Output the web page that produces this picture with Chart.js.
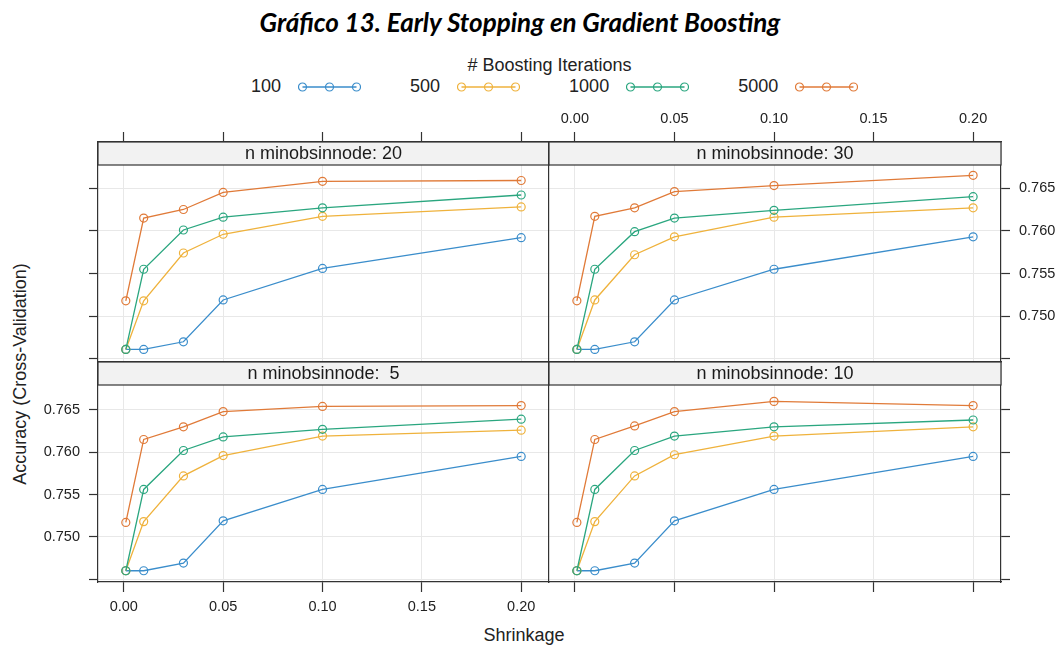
<!DOCTYPE html>
<html>
<head>
<meta charset="utf-8">
<script src="https://cdn.jsdelivr.net/npm/chart.js@4.4.1/dist/chart.umd.min.js"></script>
<style>
  body { margin: 0; background: #fff; width: 1061px; height: 648px; position: relative; overflow: hidden;
         font-family: "Liberation Sans", Arial, sans-serif; color: #222; }
  canvas { position: absolute; left: 0; top: 0; }
  #title { position: absolute; left: 0; width: 1040px; top: 6px; text-align: center;
           font: italic 700 26px Lato, "Open Sans", sans-serif; color: #000; }
  #keyTitle { position: absolute; left: 0; width: 1099px; top: 55px; text-align: center; font-size: 18px; }
  #key { position: absolute; left: 251px; top: 76px; display: flex; align-items: center; font-size: 18px; }
  #key .item { display: flex; align-items: center; margin-right: 49px; }
  #key svg { margin-left: 17px; }
  #xlab { position: absolute; left: 0; width: 1048px; top: 625px; text-align: center; font-size: 18px; }
  #ylab { position: absolute; left: 20px; top: 374px; font-size: 18px; white-space: nowrap;
          transform: translate(-50%, -50%) rotate(-90deg); }
</style>
</head>
<body>
<div id="title">Gráfico 13. Early Stopping en Gradient Boosting</div>
<div id="keyTitle"># Boosting Iterations</div>
<div id="key"></div>
<div id="xlab">Shrinkage</div>
<div id="ylab">Accuracy (Cross-Validation)</div>

<script>
// valores
const shrinkage = [0.001, 0.01, 0.03, 0.05, 0.1, 0.2];
const iterations = ['100', '500', '1000', '5000'];
const colors = ['#3a8dcb', '#efb23c', '#2aa67f', '#e07a38'];

const xTicks = [0, 0.05, 0.1, 0.15, 0.2];
const xTickLabels = ['0.00', '0.05', '0.10', '0.15', '0.20'];
const yTicks = [0.745, 0.75, 0.755, 0.76, 0.765];
const yTickLabels = ['', '0.750', '0.755', '0.760', '0.765'];

// n.minobsinnode = 20
const n20_it100  = [0.7461, 0.7461, 0.7470, 0.7519, 0.7556, 0.7592];
const n20_it500  = [0.7461, 0.7518, 0.7574, 0.7596, 0.7617, 0.7628];
const n20_it1000 = [0.7461, 0.7555, 0.7601, 0.7616, 0.7627, 0.7642];
const n20_it5000 = [0.7518, 0.7615, 0.7625, 0.7645, 0.7658, 0.7659];

// n.minobsinnode = 30
const n30_it100  = [0.7461, 0.7461, 0.7470, 0.7519, 0.7555, 0.7593];
const n30_it500  = [0.7461, 0.7519, 0.7572, 0.7593, 0.7616, 0.7627];
const n30_it1000 = [0.7461, 0.7555, 0.7599, 0.7615, 0.7624, 0.7640];
const n30_it5000 = [0.7518, 0.7617, 0.7627, 0.7646, 0.7653, 0.7665];

// n.minobsinnode = 5
const n5_it100  = [0.7460, 0.7460, 0.7469, 0.7519, 0.7556, 0.7595];
const n5_it500  = [0.7460, 0.7518, 0.7572, 0.7596, 0.7619, 0.7626];
const n5_it1000 = [0.7460, 0.7556, 0.7602, 0.7618, 0.7627, 0.7639];
const n5_it5000 = [0.7517, 0.7615, 0.7630, 0.7648, 0.7654, 0.7655];

// n.minobsinnode = 10
const n10_it100  = [0.7460, 0.7460, 0.7469, 0.7519, 0.7556, 0.7595];
const n10_it500  = [0.7460, 0.7518, 0.7572, 0.7597, 0.7619, 0.7630];
const n10_it1000 = [0.7460, 0.7556, 0.7602, 0.7619, 0.7630, 0.7638];
const n10_it5000 = [0.7517, 0.7615, 0.7631, 0.7648, 0.7660, 0.7655];

Chart.defaults.font.family = '"Liberation Sans", Arial, sans-serif';
Chart.defaults.color = '#222';

const W = 1061, H = 648;
const FRAME = '#333';
const GRID = '#e8e8e8';
const AXW = 60, AXH = 40;   // tamaño fijo de cada eje

// leyenda: texto + línea con tres círculos
const key = document.getElementById('key');
iterations.forEach((it, i) => {
  const c = colors[i];
  key.insertAdjacentHTML('beforeend',
    `<div class="item"><span>${it}</span>` +
    `<svg width="63" height="12"><line x1="4.5" y1="6" x2="58.5" y2="6" stroke="${c}" stroke-width="1.3"/>` +
    [4.5, 31.5, 58.5].map(cx => `<circle cx="${cx}" cy="6" r="4" fill="none" stroke="${c}" stroke-width="1.2"/>`).join('') +
    `</svg></div>`);
});

// cabecera del panel (strip de lattice)
const stripPlugin = {
  id: 'strip',
  beforeDatasetsDraw(chart, args, o) {
    const { ctx, chartArea: a } = chart;
    ctx.save();
    ctx.fillStyle = '#f2f2f2';
    ctx.fillRect(a.left, a.top, a.right - a.left, o.height);
    ctx.strokeStyle = FRAME;
    ctx.lineWidth = 1.2;
    ctx.strokeRect(a.left, a.top, a.right - a.left, o.height);
    ctx.fillStyle = '#1a1a1a';
    ctx.font = '18px "Liberation Sans", Arial, sans-serif';
    ctx.textAlign = 'center';
    ctx.textBaseline = 'middle';
    ctx.fillText(o.text, (a.left + a.right) / 2, a.top + o.height / 2 + 1);
    ctx.restore();
  }
};

function fixedSize(s) {
  if (s.isHorizontal()) s.height = AXH; else s.width = AXW;
  s.paddingLeft = s.paddingRight = s.paddingTop = s.paddingBottom = 0;
}

function xAxis(pos, ticks, labels, onArea) {
  return {
    type: 'linear', position: pos, min: -0.013, max: 0.214, bounds: 'data',
    afterBuildTicks: s => { s.ticks = xTicks.map(v => ({ value: v })); },
    afterFit: fixedSize,
    ticks: { display: labels, autoSkip: false, maxRotation: 0, padding: pos === 'top' ? 4 : 6,
             font: { size: 14.5 }, color: '#222', callback: (v, i) => xTickLabels[i] },
    grid: { display: true, drawOnChartArea: onArea, drawTicks: ticks, tickLength: 10,
            tickWidth: 1.2, tickColor: FRAME, color: GRID, lineWidth: 1 },
    border: { display: true, color: FRAME, width: 1.2 }
  };
}

function yAxis(pos, range, ticks, labels, onArea) {
  return {
    type: 'linear', position: pos, min: range[0], max: range[1], bounds: 'data',
    afterBuildTicks: s => { s.ticks = yTicks.map(v => ({ value: v })); },
    afterFit: fixedSize,
    ticks: { display: labels, autoSkip: false, padding: 9,
             font: { size: 14.5 }, color: '#222', callback: (v, i) => yTickLabels[i] },
    grid: { display: true, drawOnChartArea: onArea, drawTicks: ticks, tickLength: 9,
            tickWidth: 1.2, tickColor: FRAME, color: GRID, lineWidth: 1 },
    border: { display: true, color: FRAME, width: 1.2 }
  };
}

function panel(label, series, rect, scales) {
  const cv = document.createElement('canvas');
  cv.width = W; cv.height = H;
  document.body.appendChild(cv);
  const used = Object.values(scales).map(s => s.position);
  const has = p => used.includes(p);
  new Chart(cv, {
    type: 'line',
    data: {
      datasets: series.map((vals, i) => ({
        label: iterations[i],
        data: shrinkage.map((x, j) => ({ x: x, y: vals[j] })),
        borderColor: colors[i],
        backgroundColor: colors[i],
        borderWidth: 1.3,
        pointRadius: 4,
        pointBorderWidth: 1.2,
        pointBorderColor: colors[i],
        pointBackgroundColor: 'rgba(0,0,0,0)',
        order: series.length - i
      }))
    },
    options: {
      responsive: false,
      animation: false,
      layout: { padding: {
        left: rect[0] - (has('left') ? AXW : 0),
        top: rect[1] - (has('top') ? AXH : 0),
        right: W - rect[2] - (has('right') ? AXW : 0),
        bottom: H - rect[3] - (has('bottom') ? AXH : 0)
      } },
      plugins: {
        legend: { display: false },
        tooltip: { enabled: false },
        strip: { text: label, height: 23 }
      },
      scales: scales
    },
    plugins: [stripPlugin]
  });
}

const topRange = [0.74463, 0.77041];
const botRange = [0.74467, 0.77065];

// fila superior: 20 | 30
panel('n minobsinnode: 20', [n20_it100, n20_it500, n20_it1000, n20_it5000], [98, 142, 549, 362], {
  x: xAxis('bottom', false, false, true),
  xt: xAxis('top', true, false, false),
  y: yAxis('left', topRange, true, false, true)
});
panel('n minobsinnode: 30', [n30_it100, n30_it500, n30_it1000, n30_it5000], [549, 142, 1001, 362], {
  x: xAxis('bottom', false, false, true),
  xt: xAxis('top', true, true, false),
  y: yAxis('left', topRange, false, false, true),
  yr: yAxis('right', topRange, true, true, false)
});
// fila inferior: 5 | 10
panel('n minobsinnode:  5', [n5_it100, n5_it500, n5_it1000, n5_it5000], [98, 362, 549, 582], {
  x: xAxis('bottom', true, true, true),
  y: yAxis('left', botRange, true, true, true)
});
panel('n minobsinnode: 10', [n10_it100, n10_it500, n10_it1000, n10_it5000], [549, 362, 1001, 582], {
  x: xAxis('bottom', true, false, true),
  y: yAxis('left', botRange, false, false, true),
  yr: yAxis('right', botRange, true, false, false)
});
</script>
</body>
</html>
